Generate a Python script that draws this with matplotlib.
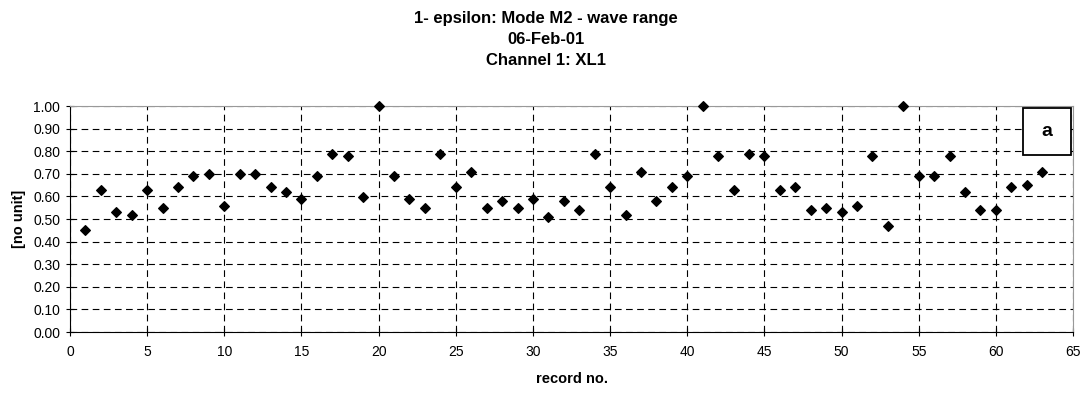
import matplotlib
matplotlib.use("Agg")
import matplotlib.pyplot as plt
import matplotlib.ticker as mtick
from matplotlib.patches import Rectangle

# data
record_no = list(range(1, 64))
epsilon = [0.45, 0.63, 0.53, 0.52, 0.63, 0.55, 0.64, 0.69, 0.70, 0.56,
           0.70, 0.70, 0.64, 0.62, 0.59, 0.69, 0.79, 0.78, 0.60, 1.00,
           0.69, 0.59, 0.55, 0.79, 0.64, 0.71, 0.55, 0.58, 0.55, 0.59,
           0.51, 0.58, 0.54, 0.79, 0.64, 0.52, 0.71, 0.58, 0.64, 0.69,
           1.00, 0.78, 0.63, 0.79, 0.78, 0.63, 0.64, 0.54, 0.55, 0.53,
           0.56, 0.78, 0.47, 1.00, 0.69, 0.69, 0.78, 0.62, 0.54, 0.54,
           0.64, 0.65, 0.71]

title_lines = ["1- epsilon: Mode M2 - wave range", "06-Feb-01", "Channel 1: XL1"]

plt.rcParams['font.family'] = ['Liberation Sans', 'DejaVu Sans']

fig = plt.figure(figsize=(10.85, 3.93), dpi=100)
ax = fig.add_axes([0.0645, 0.155, 0.9245, 0.575])

ax.set_xlim(0, 65)
ax.set_ylim(0, 1.0)
ax.xaxis.set_major_locator(mtick.MultipleLocator(5))
ax.yaxis.set_major_locator(mtick.MultipleLocator(0.1))
ax.yaxis.set_major_formatter(mtick.FormatStrFormatter('%.2f'))
ax.grid(True, color='black', ls=(0, (6, 4)), lw=0.8)
ax.set_axisbelow(True)

ax.scatter(record_no, epsilon, marker='D', s=24, c='black', zorder=3, clip_on=False)

for side in ['top', 'right']:
    ax.spines[side].set_color('#999999')
for side in ['left', 'bottom']:
    ax.spines[side].set_color('black')
ax.tick_params(direction='inout', length=6, labelsize=10, colors='black')
ax.tick_params(axis='x', pad=6)
ax.tick_params(axis='y', pad=4)

ax.set_xlabel('record no.', fontsize=10.5, fontweight='bold', labelpad=10)
ax.set_ylabel('[no unit]', fontsize=10.5, fontweight='bold', labelpad=5)

fig.text(0.503, 0.972, "\n".join(title_lines), ha='center', va='top',
         fontsize=12, fontweight='bold', linespacing=1.5)

# "a" label box
ax.add_patch(Rectangle((0.950, 0.783), 0.048, 0.208, transform=ax.transAxes,
                       fc='white', ec='black', lw=1.3, zorder=4, clip_on=False))
ax.text(0.974, 0.887, 'a', transform=ax.transAxes, ha='center', va='center',
        fontsize=14, fontweight='bold', zorder=5)

fig.savefig('out.png', dpi=100)
